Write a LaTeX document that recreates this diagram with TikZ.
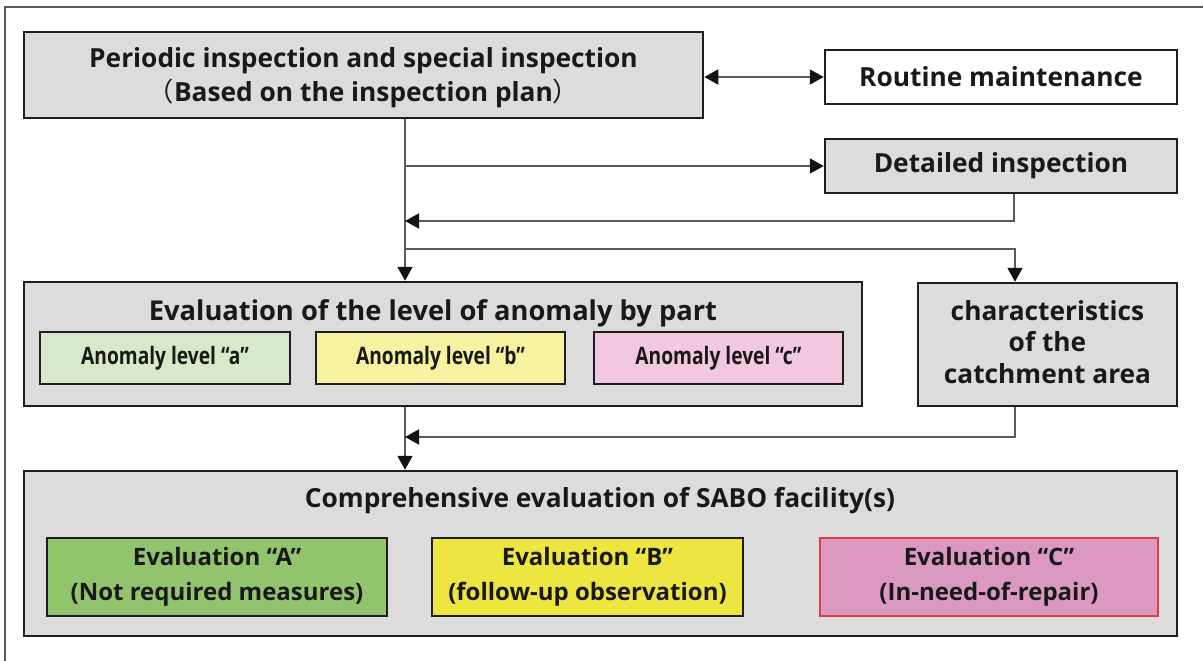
\documentclass[tikz,border=0pt]{standalone}
\usepackage{fontspec}
\setmainfont{Open Sans}
\newfontfamily\cjkf{Noto Sans CJK JP}
\newfontfamily\condf{Open Sans}[FakeStretch=0.8]
\usetikzlibrary{arrows.meta}
\definecolor{boxgray}{RGB}{220,220,220}
\definecolor{bordc}{RGB}{30,30,30}
\definecolor{linec}{RGB}{90,90,90}
\definecolor{tipc}{RGB}{20,20,20}
\definecolor{txt}{RGB}{25,25,25}
\definecolor{fa}{RGB}{215,233,200}
\definecolor{fb}{RGB}{247,242,160}
\definecolor{fc}{RGB}{242,200,225}
\definecolor{fA}{RGB}{146,196,110}
\definecolor{fB}{RGB}{237,229,64}
\definecolor{fC}{RGB}{219,153,194}
\definecolor{bC}{RGB}{225,60,70}
\newcommand\mainsz{\fontsize{26.3}{34}\selectfont\bfseries}
\newcommand\subsz{\condf\fontsize{24}{34}\selectfont\bfseries}
\newcommand\evsz{\fontsize{24}{35}\selectfont\bfseries}
\newcommand\shiftbox[2]{\raisebox{#1}[\height][\depth]{\begin{tabular}{@{}c@{}}#2\end{tabular}}}
\begin{document}
\begin{tikzpicture}[x=1pt,y=-1pt,
  mainbox/.style={draw=bordc, line width=2.5pt, fill=boxgray, inner sep=0pt, text=txt, font=\mainsz, align=center},
  subbox/.style={draw=bordc, line width=2pt, inner sep=0pt, text=txt, font=\subsz, align=center},
  evbox/.style={subbox, font=\evsz},
  title/.style={inner sep=0pt, text=txt, font=\mainsz, align=center},
  conn/.style={draw=linec, line width=1.8pt},
  arr/.style={conn, -{Triangle[length=14pt,width=15pt,color=tipc]}},
  darr/.style={conn, {Triangle[length=14pt,width=15pt,color=tipc]}-{Triangle[length=14pt,width=15pt,color=tipc]}}
]
\useasboundingbox (0,0) rectangle (1203,661);
\fill[white] (0,0) rectangle (1203,661);
% outer frame (cropped)
\draw[draw=linec, line width=1.5pt] (5,661) -- (5,7) -- (1203,7);

% nodes
\node[mainbox, minimum width=679pt, minimum height=86pt] (top) at (363.5,75)
  {\shiftbox{-3pt}{Periodic inspection and special inspection\\{\cjkf\mdseries （}Based on the inspection plan{\cjkf\mdseries ）}}};
\node[mainbox, fill=white, minimum width=352pt, minimum height=54pt] (routine) at (1001,77) {Routine maintenance};
\node[mainbox, minimum width=352pt, minimum height=54pt] (detailed) at (1001,166) {Detailed inspection};

\node[mainbox, minimum width=838pt, minimum height=124pt] (eval) at (443,344) {};
\node[title, font=\fontsize{27.3}{34}\selectfont\bfseries] (evaltitle) at (433,313) {Evaluation of the level of anomaly by part};
\node[subbox, fill=fa, minimum width=250pt, minimum height=52pt] (la) at (165,358) {Anomaly level “a”};
\node[subbox, fill=fb, minimum width=249pt, minimum height=52pt] (lb) at (440.5,358) {Anomaly level “b”};
\node[subbox, fill=fc, minimum width=249pt, minimum height=52pt] (lc) at (718.5,358) {Anomaly level “c”};

\node[mainbox, minimum width=259pt, minimum height=123pt, font=\fontsize{26.3}{31.5}\selectfont\bfseries] (char) at (1047.5,344.5)
  {\shiftbox{-1pt}{characteristics\\of the\\catchment area}};

\node[mainbox, minimum width=1153pt, minimum height=165pt] (comp) at (600.5,553.5) {};
\node[title] (comptitle) at (600,501) {Comprehensive evaluation of SABO facility(s)};
\node[evbox, fill=fA, minimum width=340pt, minimum height=78pt] (eA) at (217,577) {Evaluation “A”\\(Not required measures)};
\node[evbox, fill=fB, minimum width=311pt, minimum height=78pt] (eB) at (587.5,577) {Evaluation “B”\\(follow-up observation)};
\node[evbox, fill=fC, draw=bC, minimum width=338pt, minimum height=78pt] (eC) at (989,577) {Evaluation “C”\\(In-need-of-repair)};

% junction coordinates
\coordinate (tx) at (405,0);
\coordinate (dx) at (1014,0);
\coordinate (cx) at (1015,0);
\coordinate (j1) at (405,166);
\coordinate (r1) at (405,221);
\coordinate (b2) at (405,249);
\coordinate (r2) at (405,437);

% connectors
\draw[darr] (top.east |- routine.west) -- (routine.west);
\draw[arr] (top.south -| tx) -- (eval.north -| tx);
\draw[arr] (j1) -- (detailed.west);
\draw[arr] (detailed.south -| dx) |- (r1);
\draw[arr] (b2) -| (char.north -| cx);
\draw[arr] (eval.south -| tx) -- (comp.north -| tx);
\draw[arr] (char.south -| cx) |- (r2);
\end{tikzpicture}
\end{document}
